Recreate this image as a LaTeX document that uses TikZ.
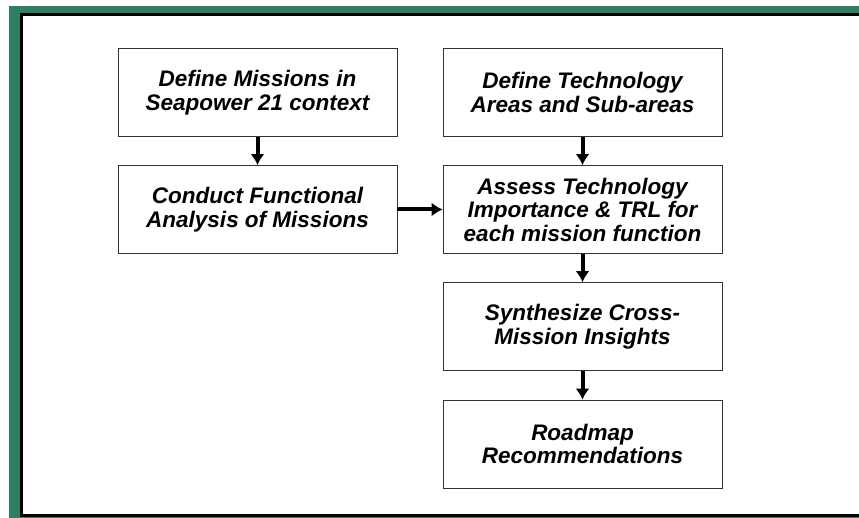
\documentclass[tikz,border=0pt]{standalone}
\usepackage{fontspec}
\setmainfont{Liberation Sans}
\usepackage{tikz}
\usetikzlibrary{arrows,arrows.meta,positioning}
\definecolor{framegreen}{RGB}{46,125,100}
\begin{document}
\begin{tikzpicture}[>={Latex[length=11pt,width=14pt]}, x=1pt, y=-1pt]
      \tikzset{
	  task/.style={rectangle, draw=black!80, line width=0.8pt, fill=white, minimum width=279pt, minimum height=88pt, inner sep=0pt, align=center, font=\fontsize{22.5}{23.5}\selectfont\bfseries\itshape},
	  flow/.style={->, line width=4pt},
      }
      \useasboundingbox (0,0) rectangle (859,518);
      % slide frame
      \fill[framegreen] (9,6) rectangle (859,518);
      \fill[black] (20,13) rectangle (859,517);
      \fill[white] (23,16) rectangle (859,514);

      \node (missions) at (257.5, 92.5) [task] {Define Missions in\\Seapower 21 context};
      \node (techareas) at (582.5, 92.5) [task] {Define Technology\\Areas and Sub-areas};
      \node (functional) at (257.5, 209.5) [task] {Conduct Functional\\Analysis of Missions};
      \node (assess) at (582.5, 209.5) [task] {Assess Technology\\Importance \& TRL for\\each mission function};
      \node (synth) at (582.5, 326.5) [task] {Synthesize Cross-\\Mission Insights};
      \node (roadmap) at (582.5, 444) [task] {Roadmap\\Recommendations};

      \draw [flow] (missions.south) -- (functional.north);
      \draw [flow] (techareas.south) -- (assess.north);
      \draw [flow] (functional.east) -- (assess.west);
      \draw [flow] (assess.south) -- (synth.north);
      \draw [flow] (synth.south) -- (roadmap.north);
    \end{tikzpicture}
\end{document}
